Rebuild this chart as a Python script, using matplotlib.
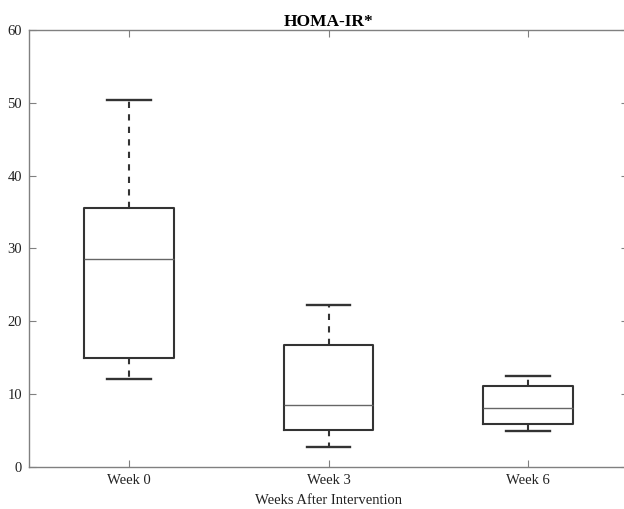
import matplotlib
matplotlib.use('Agg')
import matplotlib.pyplot as plt

# --- data (HOMA-IR per week) ---
labels = ['Week 0', 'Week 3', 'Week 6']
whis_low = [12.1, 2.75, 4.95]
q1 = [14.9, 5.0, 5.9]
median = [28.5, 8.5, 8.1]
q3 = [35.6, 16.7, 11.1]
whis_high = [50.4, 22.2, 12.5]

plt.rcParams['font.family'] = ['Liberation Serif', 'DejaVu Serif']

stats = []
for i in range(len(labels)):
    stats.append({
        'label': labels[i],
        'whislo': whis_low[i],
        'q1': q1[i],
        'med': median[i],
        'q3': q3[i],
        'whishi': whis_high[i],
        'fliers': [],
    })

fig = plt.figure(figsize=(6.24, 5.09), dpi=100)
ax = fig.add_axes([29 / 624, 42.3 / 509, 599 / 624, 436.7 / 509])

ax.bxp(stats, positions=[1, 2, 3], widths=0.45, showfliers=False,
       boxprops=dict(color='#333333', linewidth=1.5),
       medianprops=dict(color='#666666', linewidth=1.0),
       whiskerprops=dict(color='#333333', linewidth=1.5, linestyle=(0, (3, 3))),
       capprops=dict(color='#333333', linewidth=1.7),
       capwidths=0.22)

ax.set_xlim(0.5, 3.5)
ax.set_ylim(0, 60)
ax.set_yticks(range(0, 61, 10))
ax.set_xticks([1, 2, 3])
ax.set_xticklabels(labels)

for sp in ax.spines.values():
    sp.set_color('#808080')
    sp.set_linewidth(1.0)
ax.tick_params(direction='in', length=5, width=0.8, color='#808080',
               top=True, right=True, labelsize=10.5, pad=5, labelcolor='#222222')

ax.set_title('HOMA-IR*', fontsize=12.5, fontweight='bold', pad=3)
ax.set_xlabel('Weeks After Intervention', fontsize=10.5, labelpad=5, color='#222222')

fig.savefig('out.png', dpi=100)
